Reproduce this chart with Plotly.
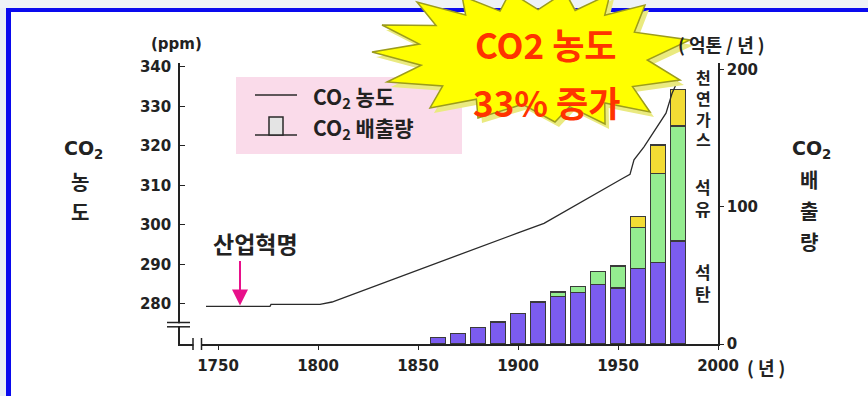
import plotly.graph_objects as go

# Atmospheric CO2 concentration (ppm)
co2_years = [1744, 1776, 1776.5, 1801, 1807, 1836, 1866, 1876, 1900, 1913,
             1932, 1952, 1956, 1958, 1963, 1968, 1974, 1977, 1980]
co2_ppm = [279.4, 279.4, 279.9, 279.9, 280.5, 286.0, 291.6, 293.6, 298.0, 300.4,
           306.0, 311.7, 312.8, 316.5, 319.8, 323.6, 328.3, 333.3, 336.7]

# Fossil-fuel CO2 emissions by decade (억톤/년)
emis_years = [1860, 1870, 1880, 1890, 1900, 1910, 1920, 1930, 1940, 1950, 1960, 1970, 1980]
coal = [4.9, 7.5, 11.9, 16.1, 22.1, 30.7, 34.5, 37.7, 43.6, 40.9, 55.0, 59.6, 75.2]
oil = [None, None, None, None, None, None, 3.5, 4.4, 9.2, 16.0, 30.2, 65.0, 84.1]
gas = [None, None, None, None, None, None, None, None, None, None, 7.7, 20.7, 26.6]

x_ticks = [1750, 1800, 1850, 1900, 1950, 2000]
ppm_ticks = [280, 290, 300, 310, 320, 330, 340]
emis_ticks = [0, 100, 200]

W, H = 868, 396
L, R, T, B = 180, 718, 63, 344          # plot area in pixels


def fx(p):
    return (p - L) / (R - L)


def fy(p):
    return (B - p) / (B - T)


NUMFONT = "DejaVu Sans, Noto Sans CJK KR, sans-serif"
KFONT = "Noto Sans CJK KR, DejaVu Sans, sans-serif"
INK = "#222222"
BAR_EDGE = "#3a3a3a"

fig = go.Figure()

fig.add_trace(go.Bar(x=emis_years, y=coal, width=7.5, name="석탄", yaxis="y",
                     marker=dict(color="#7b5cf0", line=dict(color=BAR_EDGE, width=1.5))))
fig.add_trace(go.Bar(x=emis_years, y=oil, width=7.5, name="석유", yaxis="y",
                     marker=dict(color="#94ec90", line=dict(color=BAR_EDGE, width=1.5))))
fig.add_trace(go.Bar(x=emis_years, y=gas, width=7.5, name="천연가스", yaxis="y",
                     marker=dict(color="#f3dc34", line=dict(color=BAR_EDGE, width=1.5))))
fig.add_trace(go.Scatter(x=co2_years, y=co2_ppm, mode="lines", name="CO2 농도",
                         yaxis="y2", line=dict(color="#2a2a2a", width=1.3)))

shapes = []


def rect(x0, y0, x1, y1, fill, line=None, lw=0, layer="above"):
    shapes.append(dict(type="rect", xref="paper", yref="paper",
                       x0=fx(x0), x1=fx(x1), y0=fy(y0), y1=fy(y1),
                       fillcolor=fill, line=dict(color=line or fill, width=lw),
                       layer=layer))


def seg(x0, y0, x1, y1, color=INK, lw=1.5):
    shapes.append(dict(type="line", xref="paper", yref="paper",
                       x0=fx(x0), x1=fx(x1), y0=fy(y0), y1=fy(y1),
                       line=dict(color=color, width=lw), layer="above"))


# page frame: pale surround with blue border
rect(0, 0, W, 8, "#eef2f7", layer="below")
rect(0, 8, 6, H, "#e9eef5", layer="below")
rect(6, 8, W, 12, "#0a0aee", layer="below")
rect(6, 8, 11, H, "#0a0aee", layer="below")

# axis breaks
rect(175, 323.3, 185, 326.0, "white")
seg(167, 322.5, 190, 322.5)
seg(167, 326.8, 190, 326.8)
rect(193.5, 341, 201, 347, "white")
seg(193, 338, 193, 350)
seg(201.5, 338, 201.5, 350)

# legend panel
rect(236, 77, 462, 154, "#fadbea")
seg(255, 95, 297, 95, "#2a2a2a", 1.3)
seg(255, 135, 297, 135, "#2a2a2a", 1.5)
rect(269, 117, 283, 135, "#e4e4e4", "#2a2a2a", 1.5)

# starburst callout
tips = [(372, 52), (382, 25), (417, 2), (462, -4), (510, -8), (565, -8), (610, -6),
        (645, 5), (690, 40), (680, 80), (650, 112), (605, 124), (555, 122),
        (478, 118), (430, 108), (387, 82)]
cx, cy = 540, 60
pts = []
n = len(tips)
for i in range(n):
    a = tips[i]
    b = tips[(i + 1) % n]
    pts.append(a)
    mx, my = (a[0] + b[0]) / 2, (a[1] + b[1]) / 2
    k = 0.74
    pts.append((cx + (mx - cx) * k, cy + (my - cy) * k))


def star_path(dx, dy):
    s = "M " + " L ".join(f"{fx(x + dx):.4f},{fy(y + dy):.4f}" for x, y in pts) + " Z"
    return s


shapes.append(dict(type="path", xref="paper", yref="paper", path=star_path(4, 5),
                   fillcolor="#eaea80", line=dict(width=0), layer="above"))
shapes.append(dict(type="path", xref="paper", yref="paper", path=star_path(0, 0),
                   fillcolor="#ffff00", line=dict(color="#9c9c1c", width=1.5),
                   layer="above"))

ann = []


def text(x, y, s, size, color=INK, family=KFONT, weight="bold", xanchor="center"):
    ann.append(dict(x=fx(x), y=fy(y), xref="paper", yref="paper", text=s,
                    showarrow=False, xanchor=xanchor, yanchor="middle",
                    font=dict(size=size, color=color, family=family, weight=weight)))


# axis titles and units
text(83, 149, "CO<sub>2</sub>", 19, family=NUMFONT)
text(80, 181, "농", 20)
text(80, 211, "도", 20)
text(811, 149, "CO<sub>2</sub>", 19, family=NUMFONT)
text(809, 179, "배", 20)
text(809, 210, "출", 20)
text(809, 241, "량", 20)
text(176, 44, "(ppm)", 15, family=NUMFONT)
text(721, 44, "( 억톤 / 년 )", 18)
text(766, 367, "( 년 )", 18)

# fuel labels beside the bars
text(703, 108, "천<br>연<br>가<br>스", 16)
text(703, 197, "석<br>유", 17)
text(703, 282, "석<br>탄", 17)

# legend text
text(311, 97, "CO<sub>2</sub> 농도", 21, xanchor="left")
text(311, 128, "CO<sub>2</sub> 배출량", 21, xanchor="left")

# callout text
NARROW = "Liberation Sans Narrow, Noto Sans CJK KR, sans-serif"
text(546, 43, "CO2 농도", 35, color="#ff3300", family=NARROW, weight="bold")
text(546, 101, "33% 증가", 35, color="#ff3300", family=NARROW, weight="bold")

# industrial revolution marker
text(255, 243, "산업혁명", 23)
ann.append(dict(x=1761, y=279.6, xref="x", yref="y2", ax=0, ay=-46, text="",
                showarrow=True, arrowhead=2, arrowsize=1.6, arrowwidth=2,
                arrowcolor="#e8108a"))

TICKFONT = dict(size=15, family=NUMFONT, color=INK, weight="bold")

fig.update_layout(
    width=W, height=H, autosize=False,
    margin=dict(l=L, r=W - R, t=T, b=H - B, pad=0),
    paper_bgcolor="white", plot_bgcolor="white",
    barmode="stack", showlegend=False,
    shapes=shapes, annotations=ann,
    xaxis=dict(range=[1731, 2000], tickvals=x_ticks, showgrid=False, zeroline=False,
               showline=True, linecolor=INK, linewidth=1.5,
               ticks="outside", ticklen=4, tickwidth=1.2, tickcolor=INK,
               ticklabelstandoff=3, tickfont=TICKFONT),
    yaxis=dict(side="right", anchor="x", range=[0, 205.1], tickvals=emis_ticks,
               showgrid=False, zeroline=False, showline=True, linecolor=INK,
               linewidth=1.5, ticks="outside", ticklen=4, tickwidth=1.2,
               tickcolor=INK, tickfont=TICKFONT),
    yaxis2=dict(side="left", anchor="x", overlaying="y",
                range=[269.87, 341.01], tickvals=ppm_ticks,
                showgrid=False, zeroline=False, showline=True, linecolor=INK,
                linewidth=1.5, ticks="inside", ticklen=5, tickwidth=1.2,
                tickcolor=INK, ticklabelstandoff=4, tickfont=TICKFONT),
)

fig.write_html("out.html")
